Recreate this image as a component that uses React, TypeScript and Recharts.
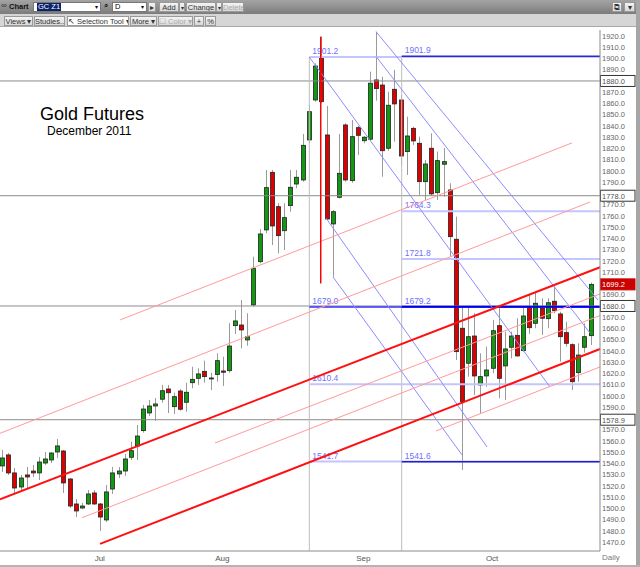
import { ComposedChart, Bar, XAxis, YAxis, ReferenceLine } from "recharts"

// daily bars, Dec 2011 gold (GC Z1)
const DATES = [
  "2011-06-09", "2011-06-10", "2011-06-13", "2011-06-14", "2011-06-15", "2011-06-16", "2011-06-17",
  "2011-06-20", "2011-06-21", "2011-06-22", "2011-06-23", "2011-06-24", "2011-06-27", "2011-06-28",
  "2011-06-29", "2011-06-30", "2011-07-01", "2011-07-05", "2011-07-06", "2011-07-07", "2011-07-08",
  "2011-07-11", "2011-07-12", "2011-07-13", "2011-07-14", "2011-07-15", "2011-07-18", "2011-07-19",
  "2011-07-20", "2011-07-21", "2011-07-22", "2011-07-25", "2011-07-26", "2011-07-27", "2011-07-28",
  "2011-07-29", "2011-08-01", "2011-08-02", "2011-08-03", "2011-08-04", "2011-08-05", "2011-08-08",
  "2011-08-09", "2011-08-10", "2011-08-11", "2011-08-12", "2011-08-15", "2011-08-16", "2011-08-17",
  "2011-08-18", "2011-08-19", "2011-08-22", "2011-08-23", "2011-08-24", "2011-08-25", "2011-08-26",
  "2011-08-29", "2011-08-30", "2011-08-31", "2011-09-01", "2011-09-02", "2011-09-06", "2011-09-07",
  "2011-09-08", "2011-09-09", "2011-09-12", "2011-09-13", "2011-09-14", "2011-09-15", "2011-09-16",
  "2011-09-19", "2011-09-20", "2011-09-21", "2011-09-22", "2011-09-23", "2011-09-26", "2011-09-27",
  "2011-09-28", "2011-09-29", "2011-09-30", "2011-10-03", "2011-10-04", "2011-10-05", "2011-10-06",
  "2011-10-07", "2011-10-10", "2011-10-11", "2011-10-12", "2011-10-13", "2011-10-14", "2011-10-17",
  "2011-10-18", "2011-10-19", "2011-10-20", "2011-10-21", "2011-10-24", "2011-10-25",
]

const OPEN = [
  1537.8, 1547.6, 1531.6, 1519.1, 1529.8, 1533.3, 1531.6, 1540.4, 1543.1, 1550.2, 1551.1, 1526.2, 1504.0, 1500.4,
  1504.0, 1513.8, 1504.0, 1489.8, 1517.3, 1530.7, 1533.3, 1545.5, 1555.6, 1569.2, 1584.9, 1591.1, 1597.1, 1606.2,
  1590.5, 1604.4, 1594.4, 1611.8, 1615.7, 1621.9, 1616.0, 1619.0, 1622.2, 1622.5, 1662.5, 1663.1, 1649.8, 1680.9,
  1719.4, 1747.6, 1798.8, 1768.3, 1746.9, 1769.2, 1788.4, 1792.0, 1827.6, 1863.1, 1901.1, 1832.0, 1752.9, 1776.6,
  1840.9, 1791.4, 1838.5, 1826.9, 1828.2, 1880.9, 1876.4, 1820.2, 1872.6, 1863.1, 1817.2, 1837.9, 1824.6, 1790.5,
  1820.2, 1780.7, 1806.0, 1783.1, 1739.3, 1660.2, 1629.1, 1653.3, 1609.8, 1617.8, 1624.6, 1662.5, 1626.7, 1643.3,
  1653.9, 1640.3, 1679.4, 1664.6, 1677.9, 1668.7, 1684.2, 1672.9, 1656.3, 1645.6, 1620.7, 1643.3, 1653.6,
]
const HIGH = [
  1552.0, 1549.3, 1536.0, 1529.8, 1536.9, 1538.7, 1545.8, 1550.2, 1550.2, 1561.8, 1552.0, 1527.1, 1508.4, 1504.9,
  1516.4, 1516.4, 1504.9, 1520.9, 1536.9, 1536.9, 1548.4, 1559.4, 1574.2, 1592.0, 1596.4, 1598.2, 1609.8, 1609.8,
  1602.9, 1606.2, 1611.8, 1626.0, 1624.6, 1631.4, 1620.7, 1638.0, 1634.9, 1664.6, 1676.4, 1685.3, 1673.5, 1723.8,
  1748.4, 1800.9, 1800.9, 1771.3, 1771.3, 1800.9, 1800.9, 1832.9, 1858.7, 1895.7, 1919.4, 1857.8, 1765.3, 1832.9,
  1842.4, 1845.3, 1840.0, 1831.1, 1888.3, 1923.8, 1883.8, 1870.5, 1889.8, 1867.6, 1848.3, 1839.4, 1830.5, 1809.8,
  1833.5, 1817.2, 1820.4, 1789.1, 1759.4, 1679.4, 1679.4, 1673.5, 1638.0, 1643.8, 1667.6, 1680.9, 1657.2, 1657.2,
  1669.1, 1679.4, 1689.8, 1692.7, 1686.8, 1686.8, 1697.2, 1674.9, 1666.0, 1646.8, 1646.8, 1664.6, 1700.7,
]
const LOW = [
  1532.4, 1529.8, 1513.8, 1514.7, 1518.2, 1528.0, 1525.3, 1538.7, 1540.4, 1544.9, 1513.8, 1500.4, 1492.4, 1499.5,
  1503.1, 1503.1, 1480.0, 1488.0, 1512.9, 1527.1, 1528.9, 1543.1, 1543.1, 1567.4, 1582.2, 1578.0, 1594.0, 1584.9,
  1584.0, 1586.9, 1586.0, 1606.8, 1609.8, 1611.8, 1605.3, 1612.7, 1608.9, 1620.7, 1655.1, 1642.4, 1644.7, 1679.5,
  1718.0, 1744.6, 1734.2, 1726.8, 1729.8, 1763.8, 1784.6, 1790.5, 1824.6, 1861.6, 1860.2, 1756.4, 1706.0, 1775.7,
  1790.5, 1789.6, 1814.2, 1824.6, 1826.9, 1862.5, 1794.9, 1818.0, 1826.0, 1805.3, 1796.4, 1823.1, 1778.7, 1774.2,
  1777.8, 1774.2, 1777.2, 1723.8, 1632.0, 1534.2, 1617.2, 1600.9, 1584.6, 1608.3, 1620.2, 1598.0, 1596.4, 1633.5,
  1634.9, 1639.4, 1655.1, 1660.2, 1654.2, 1660.2, 1673.5, 1630.5, 1643.8, 1605.3, 1612.7, 1638.5, 1645.3,
]
const CLOSE = [
  1544.9, 1531.6, 1518.2, 1527.1, 1528.0, 1531.6, 1541.3, 1544.0, 1549.3, 1555.6, 1522.7, 1502.2, 1497.8, 1502.2,
  1512.9, 1504.0, 1492.4, 1514.7, 1531.6, 1533.3, 1544.0, 1551.4, 1564.4, 1588.4, 1591.1, 1592.9, 1604.7, 1602.9,
  1599.4, 1588.2, 1603.3, 1614.8, 1619.6, 1617.2, 1616.0, 1631.4, 1621.1, 1644.4, 1666.7, 1658.7, 1652.7, 1713.5,
  1744.0, 1785.2, 1751.1, 1742.5, 1758.5, 1785.5, 1794.4, 1822.8, 1852.7, 1893.3, 1861.6, 1757.3, 1763.8, 1797.9,
  1792.0, 1830.5, 1831.7, 1830.0, 1878.0, 1873.2, 1818.0, 1858.4, 1859.6, 1813.3, 1831.1, 1826.7, 1790.5, 1806.2,
  1779.6, 1809.2, 1808.3, 1741.6, 1639.4, 1595.0, 1652.7, 1617.8, 1617.2, 1623.1, 1658.0, 1615.7, 1641.8, 1653.3,
  1635.6, 1671.1, 1660.7, 1682.4, 1669.1, 1682.9, 1675.8, 1652.7, 1646.8, 1612.7, 1636.4, 1652.7, 1699.2,
]

const PRICE_TICKS = [
  1470, 1480, 1490, 1500, 1510, 1520, 1530, 1540, 1550, 1560, 1570, 1580, 1590, 1600, 1610, 1620,
  1630, 1640, 1650, 1660, 1670, 1680, 1690, 1700, 1710, 1720, 1730, 1740, 1750, 1760, 1770, 1780,
  1790, 1800, 1810, 1820, 1830, 1840, 1850, 1860, 1870, 1880, 1890, 1900, 1910, 1920,
]
const MONTHS = ["Jan", "Feb", "Mar", "Apr", "May", "Jun", "Jul", "Aug", "Sep", "Oct", "Nov", "Dec"]

// horizontal lines marked on the price axis
const MARKED_LEVELS = [1880, 1778, 1680, 1578.9]
const LAST_PRICE = 1699.2

// fibonacci tools: start bar (fractional index) and levels
const FIB1_START = 51.18
const FIB1_LEVELS = [1901.2, 1679.0, 1610.4, 1541.7]
const FIB2_START = 66.25
const FIB2_LEVELS = [1901.9, 1764.3, 1721.8, 1679.2, 1541.6]

// trend lines as [bar, price, bar, price]
const CHANNEL_MAIN = [
  [0.72, 1508.2, 98.6, 1714.4],
  [17.04, 1468.5, 98.6, 1641.8],
]
const CHANNEL_THIN = [
  [20.31, 1667.6, 94.02, 1824.9],
  [0.72, 1566.8, 96.97, 1772.4],
  [35.8, 1558.2, 98.6, 1690.7],
  [14.1, 1491.8, 98.6, 1671.5],
  [71.85, 1568.9, 98.6, 1625.8],
]
const DOWN_LINES = [
  [62.06, 1923.8, 98.27, 1685.3],
  [62.06, 1901.9, 96.97, 1656.0],
  [51.18, 1901.3, 90.44, 1608.0],
  [53.9, 1758.2, 80.17, 1554.7],
  [55.05, 1705.8, 76.09, 1547.6],
]
const RED_MARK = [53.04, 1919.4, 53.04, 1700.0]

const X_DOMAIN = [0.72, 98.6]
const Y_DOMAIN = [1462.2, 1925.3]

const FONT = "'Liberation Sans', Arial, sans-serif"

const data = DATES.map((d, k) => ({
  i: k + 1,
  date: d,
  o: OPEN[k],
  h: HIGH[k],
  l: LOW[k],
  c: CLOSE[k],
  range: [LOW[k], HIGH[k]],
}))

const monthTicks = data.filter((r, k) => k > 0 && r.date.slice(5, 7) !== data[k - 1].date.slice(5, 7)).map((r) => r.i)
const monthName = (i: number) => MONTHS[Number(DATES[i - 1].slice(5, 7)) - 1]

// tick labels hidden behind the boxed level labels
const boxed = [...MARKED_LEVELS, LAST_PRICE]
const priceTicks = PRICE_TICKS.filter((t) => boxed.every((b) => Math.abs(t - b) > 5))

function Candle(props: any) {
  const { x, y, width, height } = props
  const p = props.payload ?? props
  if (height == null || !isFinite(y)) return null
  const k = height / (p.h - p.l)
  const yo = y + (p.h - p.o) * k
  const yc = y + (p.h - p.c) * k
  const up = p.c >= p.o
  const cx = Math.round(x + width / 2) + 0.5
  const top = Math.min(yo, yc)
  const bh = Math.max(1, Math.abs(yo - yc))
  return (
    <g>
      <line x1={cx} x2={cx} y1={y} y2={y + height} stroke="#9a9a9a" strokeWidth={1} />
      <rect
        x={cx - 2}
        y={top}
        width={4}
        height={bh}
        fill={up ? "#119911" : "#dd0000"}
        stroke="#222"
        strokeWidth={0.8}
      />
    </g>
  )
}

const boxLabel = (text: string, fill: string, color: string) => (props: any) => {
  const vb = props.viewBox || {}
  const x = (vb.x ?? 0) + (vb.width ?? 0)
  const y = vb.y ?? 0
  return (
    <g>
      <rect x={x + 0.5} y={y - 5.5} width={34.5} height={11} fill={fill} stroke={fill === "#fff" ? "#333" : fill} />
      <text x={x + 2} y={y + 3} fontSize={7.5} fill={color} fontFamily={FONT}>
        {text}
      </text>
    </g>
  )
}

const fibLabel = (text: string) => (props: any) => {
  const vb = props.viewBox || {}
  return (
    <text x={(vb.x ?? 0) + 3} y={(vb.y ?? 0) - 3} fontSize={8.5} fill="#7070ff" fontFamily={FONT}>
      {text}
    </text>
  )
}

const seg = (l: number[]) => [
  { x: l[0], y: l[1] },
  { x: l[2], y: l[3] },
]

const FIB1_STYLE = [
  { stroke: "#c4c4ff", w: 2 },
  { stroke: "#3030ff", w: 1.5 },
  { stroke: "#c4c4ff", w: 2 },
  { stroke: "#c4c4ff", w: 2 },
]
const FIB2_STYLE = [
  { stroke: "#2a2ad0", w: 1.5 },
  { stroke: "#c4c4ff", w: 2 },
  { stroke: "#c4c4ff", w: 2 },
  { stroke: "#0000ee", w: 2 },
  { stroke: "#2020c8", w: 1.5 },
]

function Toolbar() {
  const btn = (left: number, width: number, text: string, extra: any = {}) => (
    <div
      style={{
        position: "absolute",
        left,
        width,
        top: 2,
        height: 10,
        border: "1px solid #9a9a9a",
        background: "linear-gradient(#f4f4f4, #d8d8d8)",
        fontSize: 7.5,
        lineHeight: "10px",
        textAlign: "center",
        color: "#333",
        boxSizing: "border-box",
        whiteSpace: "nowrap",
        overflow: "hidden",
        ...extra,
      }}
    >
      {text}
    </div>
  )
  return (
    <>
      <div
        style={{
          position: "absolute",
          left: 0,
          top: 0,
          width: 636,
          height: 14,
          background: "linear-gradient(#a4a4a4, #7c7c7c)",
          fontSize: 7.5,
        }}
      >
        <span style={{ position: "absolute", left: 1, top: 1, fontSize: 8, color: "#333" }}>∞</span>
        <span style={{ position: "absolute", left: 9, top: 2, color: "#111", fontWeight: "bold" }}>Chart</span>
        <div style={{ position: "absolute", left: 33, top: 2, width: 68, height: 10, background: "#fff", border: "1px solid #777", boxSizing: "border-box" }}>
          <span style={{ position: "absolute", left: 3, top: 0, background: "#0a246a", color: "#fff", lineHeight: "8px", padding: "0 1px" }}>GC Z1</span>
          <span style={{ position: "absolute", right: 2, top: 0, lineHeight: "8px", fontSize: 6 }}>▾</span>
        </div>
        <span style={{ position: "absolute", left: 104, top: 1, fontSize: 8 }}>⌕</span>
        <div style={{ position: "absolute", left: 112, top: 2, width: 35, height: 10, background: "#fff", border: "1px solid #777", boxSizing: "border-box" }}>
          <span style={{ position: "absolute", left: 2, top: 0, lineHeight: "8px" }}>D</span>
          <span style={{ position: "absolute", right: 2, top: 0, lineHeight: "8px", fontSize: 6 }}>▾</span>
        </div>
        {btn(148, 8, "▸")}
        {btn(159, 20, "Add")}
        {btn(179, 6, "▾", { fontSize: 6 })}
        {btn(186, 30, "Change")}
        {btn(216, 6, "▾", { fontSize: 6 })}
        {btn(222, 22, "Delete", { color: "#aaa" })}
        {btn(612, 10, "⧉")}
        {btn(624, 11, "▾")}
      </div>
      <div
        style={{
          position: "absolute",
          left: 0,
          top: 14,
          width: 636,
          height: 13,
          background: "#d6d6d6",
          borderBottom: "1px solid #a8a8a8",
          boxSizing: "border-box",
        }}
      >
        {btn(4, 29, "Views ▾")}
        {btn(34, 31, "Studies...")}
        {btn(67, 62, "↖ Selection Tool ▾", { background: "#fff" })}
        {btn(130, 27, "More ▾")}
        {btn(158, 35, "☐ Color ▾", { color: "#aaa" })}
        {btn(194, 10, "+")}
        {btn(205, 11, "%")}
      </div>
    </>
  )
}

export default function App() {
  return (
    <div
      style={{
        position: "fixed",
        left: 0,
        top: 0,
        width: 640,
        height: 567,
        background: "#fff",
        overflow: "hidden",
        fontFamily: FONT,
      }}
    >
      <Toolbar />
      <div style={{ position: "absolute", left: 0, top: 27 }}>
        <ComposedChart width={636} height={540} data={data} margin={{ top: 3, right: 0, bottom: 0, left: 0 }}>
          <XAxis
            dataKey="i"
            type="number"
            domain={X_DOMAIN}
            allowDataOverflow
            ticks={monthTicks}
            interval={0}
            tickFormatter={monthName}
            height={16}
            tickLine={false}
            tickSize={0}
            tickMargin={4}
            axisLine={{ stroke: "#8c8c8c" }}
            tick={{ fontSize: 8, fill: "#555", fontFamily: FONT }}
          />
          <YAxis
            orientation="right"
            type="number"
            width={36}
            domain={Y_DOMAIN}
            allowDataOverflow
            ticks={priceTicks}
            interval={0}
            tickFormatter={(v: number) => v.toFixed(1)}
            tickLine={false}
            tickSize={0}
            tickMargin={2}
            axisLine={{ stroke: "#8c8c8c" }}
            tick={{ fontSize: 7.5, fill: "#666", fontFamily: FONT, textAnchor: "start" }}
          />

          {MARKED_LEVELS.map((v) => (
            <ReferenceLine
              key={"m" + v}
              y={v}
              stroke="#8c8c8c"
              strokeWidth={1}
              ifOverflow="visible"
              label={boxLabel(v.toFixed(1), "#fff", "#555")}
            />
          ))}

          {/* fibonacci retracements */}
          <ReferenceLine
            segment={[{ x: FIB1_START, y: FIB1_LEVELS[0] }, { x: FIB1_START, y: Y_DOMAIN[0] }]}
            stroke="#bdbdbd"
            ifOverflow="visible"
          />
          <ReferenceLine
            segment={[{ x: FIB2_START, y: FIB2_LEVELS[0] }, { x: FIB2_START, y: Y_DOMAIN[0] }]}
            stroke="#bdbdbd"
            ifOverflow="visible"
          />
          {FIB1_LEVELS.map((v, k) => (
            <ReferenceLine
              key={"f1" + v}
              segment={[{ x: FIB1_START, y: v }, { x: X_DOMAIN[1], y: v }]}
              stroke={FIB1_STYLE[k].stroke}
              strokeWidth={FIB1_STYLE[k].w}
              ifOverflow="visible"
              label={fibLabel(v.toFixed(1))}
            />
          ))}
          {FIB2_LEVELS.map((v, k) => (
            <ReferenceLine
              key={"f2" + v}
              segment={[{ x: FIB2_START, y: v }, { x: X_DOMAIN[1], y: v }]}
              stroke={FIB2_STYLE[k].stroke}
              strokeWidth={FIB2_STYLE[k].w}
              ifOverflow="visible"
              label={fibLabel(v.toFixed(1))}
            />
          ))}

          {DOWN_LINES.map((l, k) => (
            <ReferenceLine key={"d" + k} segment={seg(l)} stroke="#8c8cff" strokeWidth={1} ifOverflow="visible" />
          ))}
          {CHANNEL_THIN.map((l, k) => (
            <ReferenceLine key={"t" + k} segment={seg(l)} stroke="#ff9a9a" strokeWidth={1} ifOverflow="visible" />
          ))}
          {CHANNEL_MAIN.map((l, k) => (
            <ReferenceLine key={"c" + k} segment={seg(l)} stroke="#ff1010" strokeWidth={2} ifOverflow="visible" />
          ))}
          <ReferenceLine segment={seg(RED_MARK)} stroke="#ff0000" strokeWidth={1.5} ifOverflow="visible" />

          <Bar dataKey="range" barSize={5} isAnimationActive={false} shape={(p: any) => <Candle {...p} />} />

          <ReferenceLine
            y={LAST_PRICE}
            stroke="none"
            ifOverflow="visible"
            label={boxLabel(LAST_PRICE.toFixed(1), "#cc0000", "#fff")}
          />
        </ComposedChart>
      </div>

      <div style={{ position: "absolute", left: 40, top: 104, fontSize: 18, color: "#000" }}>Gold Futures</div>
      <div style={{ position: "absolute", left: 47, top: 124, fontSize: 12, color: "#000" }}>December 2011</div>
      <div style={{ position: "absolute", left: 602, top: 553, fontSize: 8, color: "#777" }}>Daily</div>
      <div style={{ position: "absolute", left: 636, top: 0, width: 4, height: 567, background: "#a6a6a6" }} />
      <div style={{ position: "absolute", left: 0, top: 565, width: 640, height: 2, background: "#b4b4b4" }} />
    </div>
  )
}
